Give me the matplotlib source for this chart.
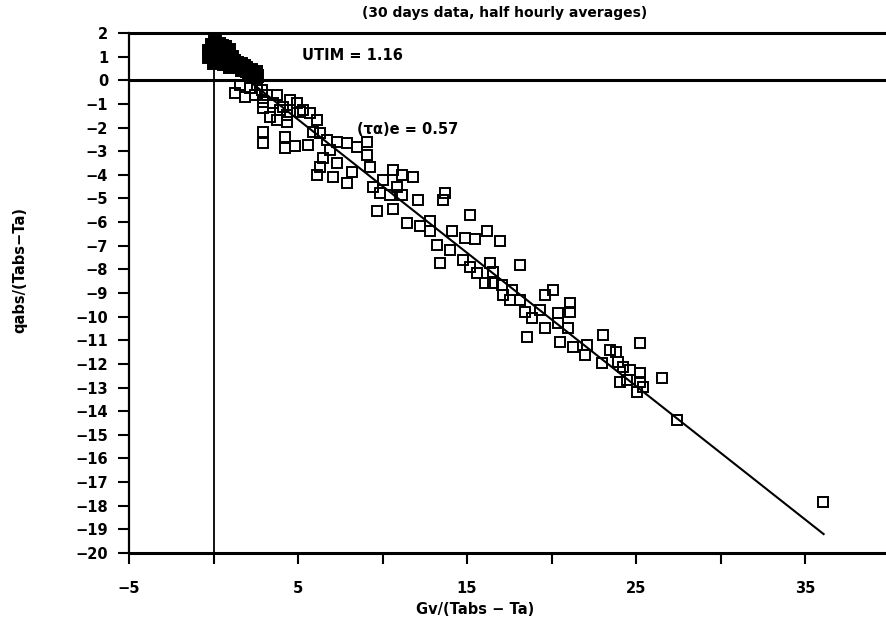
import matplotlib
matplotlib.use("Agg")
import matplotlib.pyplot as plt

# ---- data ----
# dense (overlapping) cluster of points near the origin
cluster_x = [-0.1, 0.1, 0.3, 0.5, 0.0, 0.2, 0.4, 0.6, -0.1, 0.1, 0.3, 0.5, 0.7, 0.9,
             0.2, 0.4, 0.6, 0.8, 1.0, 1.1, 0.6, 0.8, 1.0, 1.2, 1.4, 1.3, 1.5, 1.6,
             1.8, 1.7, 1.9, 2.0, 2.2, 2.1, 2.3, 2.5, 2.6, 2.4, 1.0, 0.9, 0.7,
             -0.25, -0.25, 0.0]
cluster_y = [1.5, 1.6, 1.55, 1.45, 1.3, 1.35, 1.25, 1.3, 1.1, 1.05, 1.0, 1.1, 1.15, 1.1,
             0.8, 0.85, 0.9, 0.95, 0.9, 1.0, 0.7, 0.7, 0.75, 0.8, 0.75, 0.6, 0.55, 0.7,
             0.6, 0.45, 0.5, 0.4, 0.45, 0.3, 0.3, 0.35, 0.2, 0.15, 0.55, 1.3, 1.4,
             1.25, 1.0, 0.75]

# individual half-hourly points
gx = [1.27, 1.86, 1.57, 2.16, 2.93, 2.93, 3.52, 4.11, 3.34, 3.76, 4.35, 4.94, 5.30, 5.71,
      6.12, 2.93, 2.93, 4.23, 4.23, 4.82, 5.59, 5.89, 6.30, 6.72, 7.31, 7.90, 8.49, 9.08,
      6.89, 6.48, 6.30, 6.12, 7.07, 7.90, 7.31, 9.08, 9.26, 9.44, 9.85, 10.44, 10.62, 11.15,
      11.80, 10.86, 10.03,
      8.19, 11.15, 12.10, 13.70, 13.58, 9.67, 10.62, 11.45, 12.22, 12.81, 12.81, 14.11,
      14.88, 15.47, 16.18, 16.95, 15.18, 13.22, 13.99, 13.40, 14.76, 15.18, 15.59, 16.36,
      16.54, 18.14,
      16.07, 16.54, 17.07, 17.13, 17.66, 17.54, 18.14, 18.43, 18.85, 19.32, 19.62, 19.62,
      20.09, 20.38, 21.09, 21.09, 20.38, 20.98, 20.50, 21.27, 22.10, 21.98, 22.99, 23.46,
      23.05, 24.23, 25.24, 18.55,
      23.82, 23.93, 24.64, 24.05, 24.47, 25.24, 25.24, 25.06, 25.41, 26.54, 27.43, 36.07,
      2.57, 2.87, 3.17, 3.93, 4.35, 5.12, 2.46, 4.53, 3.76]
gy = [-0.54, -0.71, -0.20, -0.33, -0.92, -1.17, -0.96, -1.13, -1.55, -1.68, -1.76, -0.96,
      -1.26, -1.38, -1.68, -2.19, -2.66, -2.40, -2.86, -2.78, -2.74, -2.19, -2.23, -2.53,
      -2.61, -2.65, -2.82, -2.61, -2.95, -3.29, -3.67, -4.01, -4.09, -4.34, -3.50, -3.16,
      -3.67, -4.51, -4.77, -4.85, -3.79, -4.01, -4.09, -4.51, -4.22,
      -3.89, -4.85, -5.05, -4.77, -5.05, -5.51, -5.43, -6.02, -6.15, -5.94, -6.36, -6.36,
      -6.66, -6.70, -6.36, -6.78, -5.70, -6.96, -7.17, -7.72, -7.60, -7.89, -8.15, -7.72,
      -8.10, -7.81,
      -8.57, -8.57, -8.66, -9.08, -8.87, -9.29, -9.29, -9.80, -10.05, -9.72, -10.48, -9.08,
      -8.87, -9.84, -9.42, -9.80, -10.26, -10.48, -11.07, -11.28, -11.20, -11.62, -11.96,
      -11.41, -10.77, -12.13, -11.11, -10.86,
      -11.49, -11.91, -12.25, -12.76, -12.68, -12.38, -12.76, -13.18, -12.97, -12.59,
      -14.37, -17.84,
      -0.20, -0.41, -0.62, -1.26, -1.47, -1.34, -0.62, -0.83, -0.62]

# fitted line end points
fit_x = [0.0, 36.1]
fit_y = [1.16, -19.2]

xticks = [-5, 0, 5, 10, 15, 20, 25, 30, 35]
xticklabels = ["−5", "", "5", "", "15", "", "25", "", "35"]
yticks = list(range(2, -21, -1))
yticklabels = ["2", "1", "0"] + ["−%d" % v for v in range(1, 21)]

title_text = "(30 days data, half hourly averages)"
xlabel_text = "Gv/(Tabs − Ta)"
ylabel_text = "qabs/(Tabs−Ta)"
utim_text = "UTIM = 1.16"
ta_text = "(τα)e = 0.57"

# ---- figure ----
plt.rcParams['font.family'] = ['DejaVu Sans']
fig = plt.figure(figsize=(8.86, 6.27), dpi=100)
ax = fig.add_axes([129 / 886, 1 - 553 / 627, 1 - 129 / 886 + 0.004, (553 - 33) / 627])
ax.set_xlim(-5, 40)
ax.set_ylim(-20, 2)

ax.axhline(0, color="black", lw=2.2, zorder=2)
ax.axvline(0, color="black", lw=1.3, zorder=2)
ax.plot(fit_x, fit_y, color="black", lw=1.5, zorder=3)

ax.plot(cluster_x, cluster_y, linestyle="none", marker="s", ms=8,
        mfc="black", mec="black", mew=1.4, zorder=4)
ax.plot(gx, gy, linestyle="none", marker="s", ms=7.5,
        mfc="none", mec="black", mew=1.4, zorder=4)

ax.spines["right"].set_visible(False)
ax.spines["top"].set_linewidth(2.2)
ax.spines["left"].set_linewidth(1.6)
ax.spines["bottom"].set_linewidth(2.2)

ax.set_xticks(xticks)
ax.set_xticklabels(xticklabels)
ax.set_yticks(yticks)
ax.set_yticklabels(yticklabels)
ax.tick_params(axis="both", direction="out", length=8, width=1.5, labelsize=10.5, pad=7)
for lab in ax.get_xticklabels() + ax.get_yticklabels():
    lab.set_fontweight("bold")
ax.tick_params(axis="x", pad=12)

ax.text(5.25, 1.05, utim_text, fontsize=10.5, fontweight="bold", va="center", ha="left")
ax.text(8.5, -2.1, ta_text, fontsize=10.5, fontweight="bold", va="center", ha="left")

fig.text(505 / 886, 1 - 13 / 627, title_text, fontsize=10, fontweight="bold",
         ha="center", va="center")
fig.text(475 / 886, 1 - 610 / 627, xlabel_text, fontsize=10.5, fontweight="bold",
         ha="center", va="center")
fig.text(20 / 886, 1 - 270 / 627, ylabel_text, fontsize=10.5, fontweight="bold",
         ha="center", va="center", rotation=90)

fig.savefig("out.png", dpi=100, facecolor="white")
